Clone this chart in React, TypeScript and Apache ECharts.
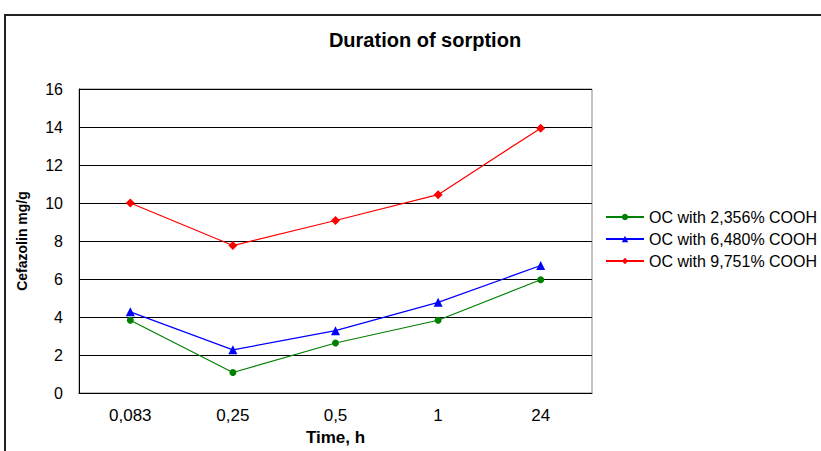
import React, { useEffect, useRef } from "react";
import * as echarts from "echarts";

const categories = ["0,083", "0,25", "0,5", "1", "24"];
const seriesNames = ["OC with 2,356% COOH", "OC with 6,480% COOH", "OC with 9,751% COOH"];
const green = [3.83, 1.08, 2.63, 3.83, 5.96];
const blue = [4.27, 2.27, 3.28, 4.77, 6.71];
const red = [10.0, 7.76, 9.08, 10.44, 13.94];

export default function App() {
  const ref = useRef<HTMLDivElement>(null);
  useEffect(() => {
    document.body.style.margin = "0";
    const chart = echarts.init(ref.current!, undefined, { renderer: "svg" });
    const font = "Liberation Sans, Arial, sans-serif";
    const mk = (name: string, data: number[], color: string, symbol: string, size: number) => ({
      name,
      type: "line",
      data,
      symbol,
      symbolSize: size,
      showAllSymbol: true,
      lineStyle: { color, width: 1.2 },
      itemStyle: { color },
    });
    chart.setOption({
      animation: false,
      backgroundColor: "#fff",
      textStyle: { fontFamily: font },
      title: {
        text: "Duration of sorption",
        left: 420,
        textAlign: "center",
        top: 25,
        textStyle: { fontSize: 20, fontWeight: "bold", color: "#000", fontFamily: font },
      },
      graphic: [
        {
          type: "rect",
          shape: { x: 5, y: 15, width: 900, height: 600 },
          style: { fill: "none", stroke: "#222", lineWidth: 2 },
          silent: true,
        },
      ],
      legend: {
        orient: "vertical",
        left: 600,
        top: 204,
        itemWidth: 38,
        itemHeight: 8,
        itemGap: 6,
        textStyle: { fontSize: 16, color: "#000", fontFamily: font },
        data: seriesNames,
      },
      grid: { left: 79, top: 89, width: 513, height: 306, containLabel: false, show: true, borderColor: "#888", borderWidth: 1 },
      xAxis: {
        type: "category",
        data: categories,
        name: "Time, h",
        nameLocation: "middle",
        nameGap: 36,
        nameTextStyle: { fontSize: 17, fontWeight: "bold", color: "#000", fontFamily: font },
        axisLine: { lineStyle: { color: "#000", width: 1 } },
        axisTick: { show: false },
        axisLabel: { fontSize: 17, color: "#000", margin: 14, fontFamily: font },
      },
      yAxis: {
        type: "value",
        min: 0,
        max: 16,
        interval: 2,
        name: "Cefazolin mg/g",
        nameLocation: "middle",
        nameGap: 50,
        nameTextStyle: { fontSize: 14, fontWeight: "bold", color: "#000", fontFamily: font },
        axisLine: { show: true, lineStyle: { color: "#000", width: 1 } },
        axisTick: { show: false },
        axisLabel: { fontSize: 16, color: "#000", margin: 16, fontFamily: font },
        splitLine: { lineStyle: { color: "#000", width: 1 } },
      },
      series: [
        mk(seriesNames[0], green, "#008000", "circle", 7),
        mk(seriesNames[1], blue, "#0000ff", "triangle", 9),
        mk(seriesNames[2], red, "#ff0000", "diamond", 9),
      ],
    });
    return () => chart.dispose();
  }, []);
  return <div ref={ref} style={{ width: 821, height: 451, position: "absolute", left: 0, top: 0 }} />;
}
